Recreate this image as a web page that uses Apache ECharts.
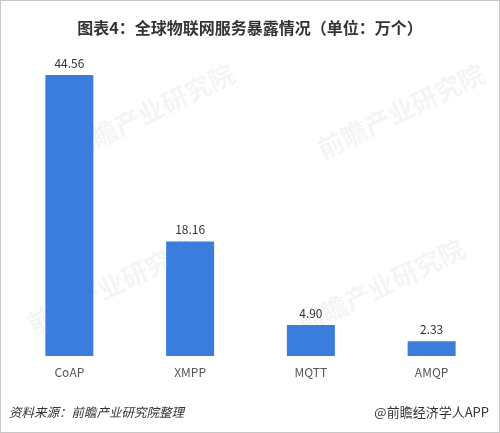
<!DOCTYPE html>
<html>
<head>
<meta charset="utf-8">
<script src="https://cdn.jsdelivr.net/npm/echarts@6/dist/echarts.min.js"></script>
<style>
html, body { margin: 0; padding: 0; background: #fff; }
#myChart { width: 500px; height: 433px; box-sizing: border-box; border: 1px solid #c8c8c8; }
</style>
</head>
<body>
<div id="myChart"></div>
<script>
// 数据
let categories = ['CoAP', 'XMPP', 'MQTT', 'AMQP']
let exposure = [44.56, 18.16, 4.90, 2.33]
let titleText = '图表4：全球物联网服务暴露情况（单位：万个）'
let sourceText = '资料来源：前瞻产业研究院整理'
let brandText = '@前瞻经济学人APP'
let watermarkText = '前瞻产业研究院'

let myChart = echarts.init(document.getElementById('myChart'))
let font = '"Noto Sans CJK SC", "Microsoft YaHei", sans-serif'

// 水印
let marks = [[150, 110], [400, 110], [110, 285], [380, 285]].map(p => ({
    type: 'text',
    x: p[0],
    y: p[1],
    rotation: Math.PI / 7,
    z: -1,
    style: {
        text: watermarkText,
        fill: 'rgba(0,0,0,0.045)',
        font: 'bold 26px ' + font,
        align: 'center',
        verticalAlign: 'middle'
    }
}))

let option = {
    title: {
        text: titleText,
        left: 'center',
        top: 14,
        textStyle: {
            color: '#333',
            fontSize: 16,
            fontWeight: 'bold',
            fontFamily: font
        }
    },
    grid: {
        left: 8,
        right: 7,
        top: 74,
        bottom: 76
    },
    xAxis: {
        type: 'category',
        data: categories,
        axisLine: { show: false },
        axisTick: { show: false },
        axisLabel: {
            color: '#555',
            fontSize: 12,
            margin: 10,
            fontFamily: font
        }
    },
    yAxis: {
        type: 'value',
        min: 0,
        max: 'dataMax',
        show: false,
        splitLine: { show: false }
    },
    graphic: marks.concat([
        {
            type: 'text',
            left: 8,
            top: 405,
            style: {
                text: sourceText,
                fill: '#333',
                font: 'italic 12.5px ' + font
            }
        },
        {
            type: 'text',
            right: 10,
            top: 405,
            style: {
                text: brandText,
                fill: '#333',
                font: '13px ' + font
            }
        }
    ]),
    series: [
        {
            type: 'bar',
            data: exposure,
            barWidth: 48,
            itemStyle: { color: '#3b7ddd' },
            label: {
                show: true,
                position: 'top',
                distance: 6,
                color: '#333',
                fontSize: 12,
                fontFamily: font,
                formatter: p => p.value.toFixed(2)
            }
        }
    ]
}
myChart.setOption(option)
</script>
</body>
</html>
